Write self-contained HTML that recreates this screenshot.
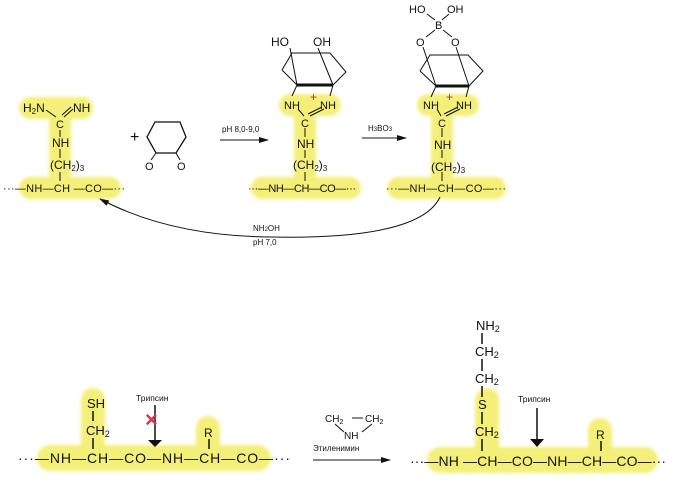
<!DOCTYPE html>
<html><head><meta charset="utf-8"><style>
body{margin:0;background:#fff}
svg{display:block}
text{font-family:"Liberation Sans","DejaVu Sans",sans-serif;fill:#111}
</style></head><body>
<svg width="676" height="483" viewBox="0 0 676 483" xmlns="http://www.w3.org/2000/svg">
<defs>
<marker id="ah" markerWidth="10" markerHeight="6" refX="9" refY="3" orient="auto" markerUnits="userSpaceOnUse"><path d="M0,0 L10,3 L0,6 z" fill="#111"/></marker>
<filter id="bl"><feGaussianBlur stdDeviation="1.5"/></filter>
</defs>
<g stroke="#f3ee6a" fill="none" stroke-linecap="round" stroke-linejoin="round" filter="url(#bl)" opacity="0.9">
<path d="M30,108 L82,108 M60,108 L60,175 M30,188 L110,188" stroke-width="22"/>
<path d="M290,105 L330,105 M305,110 L305,178 M262,188 L350,188" stroke-width="22"/>
<path d="M428,105 L468,105 M442,110 L442,178 M398,188 L495,188" stroke-width="22"/>
<path d="M50,458 L258,458" stroke-width="26"/>
<path d="M93,400 L93,450 M208,428 L208,450" stroke-width="24"/>
<path d="M440,460 L645,460" stroke-width="26"/>
<path d="M487,400 L487,450 M600,430 L600,450" stroke-width="24"/>
</g>
<g font-size="12">
<text x="23" y="112">H<tspan font-size="8" dy="2">2</tspan><tspan dy="-2">N</tspan></text>
<text x="73" y="112">NH</text>
<line x1="46" y1="110" x2="56" y2="117" stroke="#111"/>
<line x1="64" y1="117" x2="73" y2="109" stroke="#111"/><line x1="62" y1="115" x2="71" y2="107" stroke="#111"/>
<text x="56" y="128" font-size="11">C</text>
<line x1="60" y1="130" x2="60" y2="137" stroke="#111"/>
<text x="52" y="147">NH</text>
<line x1="60" y1="149" x2="60" y2="158" stroke="#111"/>
<text x="50" y="169">(CH<tspan font-size="8" dy="2">2</tspan><tspan dy="-2">)</tspan><tspan font-size="8" dy="2">3</tspan></text>
<line x1="60" y1="172" x2="60" y2="181" stroke="#111"/>
<text x="3" y="192" font-size="11" textLength="122" lengthAdjust="spacing">···—NH—CH —CO—···</text>
<text x="130" y="142" font-size="16">+</text>
<path d="M155,122 L180,122 L186,137 L176,153 L156,153 L147,137 Z" fill="none" stroke="#111" stroke-width="1.3"/>
<line x1="156" y1="153" x2="151" y2="160" stroke="#111"/><line x1="176" y1="153" x2="180" y2="160" stroke="#111"/>
<text x="145" y="170" font-size="11">O</text><text x="177" y="170" font-size="11">O</text>
<text x="222" y="132" font-size="8">pH 8,0-9,0</text>
<line x1="220" y1="140" x2="268" y2="140" stroke="#111" marker-end="url(#ah)"/>
<text x="271" y="46">HO</text><text x="313" y="46">OH</text>
<g stroke="#111" fill="none">
<path d="M282,70 L292,53 L330,53 L346,72 L333,85 M282,70 L297,85"/>
<line x1="297" y1="85" x2="333" y2="85" stroke-width="3"/>
<line x1="290" y1="48" x2="297" y2="85"/><line x1="318" y1="48" x2="333" y2="85"/>
<line x1="297" y1="85" x2="292" y2="96"/><line x1="333" y1="85" x2="330" y2="96"/>
<line x1="298" y1="109" x2="304" y2="116"/><line x1="324" y1="109" x2="310" y2="116"/><line x1="322" y1="107" x2="308" y2="114"/>
<line x1="305" y1="128" x2="305" y2="137"/><line x1="305" y1="150" x2="305" y2="158"/><line x1="305" y1="172" x2="305" y2="181"/>
</g>
<text x="284" y="109" font-size="11">NH</text><text x="320" y="109" font-size="11">NH</text>
<text x="310" y="101" style="fill:#e02020" font-size="12">+</text>
<text x="301" y="127" font-size="11">C</text>
<text x="297" y="148">NH</text>
<text x="293" y="169">(CH<tspan font-size="8" dy="2">2</tspan><tspan dy="-2">)</tspan><tspan font-size="8" dy="2">3</tspan></text>
<text x="248" y="192" font-size="11" textLength="108" lengthAdjust="spacing">···—NH—CH—CO—···</text>
<text x="368" y="131" font-size="8">H<tspan font-size="6">3</tspan>BO<tspan font-size="6">3</tspan></text>
<line x1="362" y1="138" x2="406" y2="138" stroke="#111" marker-end="url(#ah)"/>
<text x="409" y="13" font-size="11">HO</text><text x="447" y="13" font-size="11">OH</text>
<text x="435" y="29" font-size="11">B</text>
<text x="416" y="46" font-size="11">O</text><text x="451" y="46" font-size="11">O</text>
<g stroke="#111" fill="none">
<line x1="427" y1="14" x2="435" y2="20"/><line x1="449" y1="14" x2="442" y2="20"/>
<line x1="435" y1="30" x2="426" y2="37"/><line x1="443" y1="30" x2="452" y2="37"/>
<path d="M420,71 L430,55 L468,55 L483,71 L469,86 M420,71 L436,86"/>
<line x1="436" y1="86" x2="469" y2="86" stroke-width="3"/>
<line x1="423" y1="47" x2="436" y2="86"/><line x1="456" y1="47" x2="469" y2="86"/>
<line x1="436" y1="86" x2="431" y2="97"/><line x1="469" y1="86" x2="466" y2="97"/>
<line x1="437" y1="109" x2="441" y2="116"/><line x1="460" y1="109" x2="446" y2="116"/><line x1="458" y1="107" x2="444" y2="114"/>
<line x1="442" y1="128" x2="442" y2="137"/><line x1="442" y1="150" x2="442" y2="158"/><line x1="442" y1="172" x2="442" y2="181"/>
</g>
<text x="423" y="109" font-size="11">NH</text><text x="456" y="109" font-size="11">NH</text>
<text x="446" y="101" style="fill:#e02020" font-size="12">+</text>
<text x="438" y="127" font-size="11">C</text>
<text x="434" y="149">NH</text>
<text x="431" y="171">(CH<tspan font-size="8" dy="2">2</tspan><tspan dy="-2">)</tspan><tspan font-size="8" dy="2">3</tspan></text>
<text x="386" y="192" font-size="11" textLength="120" lengthAdjust="spacing">···—NH—CH—CO—···</text>
<path d="M440,197 Q420,240 270,237 Q170,236 100,199" fill="none" stroke="#111" marker-end="url(#ah)"/>
<text x="253" y="231" font-size="8">NH<tspan font-size="6">2</tspan>OH</text>
<text x="253" y="245" font-size="8">pH 7,0</text>
<!-- bottom left -->
<text x="87" y="408" font-size="13">SH</text>
<line x1="93" y1="411" x2="93" y2="421" stroke="#111" stroke-width="1.5"/>
<text x="86" y="435" font-size="13">CH<tspan font-size="9" dy="2">2</tspan></text>
<line x1="93" y1="438" x2="93" y2="449" stroke="#111" stroke-width="1.5"/>
<text x="18" y="463" font-size="14" textLength="272" lengthAdjust="spacing">···—NH—CH—CO—NH—CH—CO—···</text>
<text x="136" y="401" font-size="8.5">Трипсин</text>
<line x1="155" y1="405" x2="155" y2="440" stroke="#111" stroke-width="1.5"/>
<path d="M148,440 L162,440 L155,447 Z" fill="#111"/>
<text x="145" y="427" style="fill:#e0304a" font-size="22" font-weight="bold">×</text>
<text x="204" y="437" font-size="12">R</text>
<line x1="209" y1="439" x2="209" y2="449" stroke="#111" stroke-width="1.5"/>
<text x="325" y="422" font-size="10">CH<tspan font-size="7" dy="2">2</tspan></text>
<line x1="352" y1="418" x2="363" y2="418" stroke="#111"/>
<text x="365" y="422" font-size="10">CH<tspan font-size="7" dy="2">2</tspan></text>
<line x1="335" y1="424" x2="344" y2="432" stroke="#111"/><line x1="372" y1="424" x2="362" y2="432" stroke="#111"/>
<text x="344" y="439" font-size="10">NH</text>
<text x="313" y="451" font-size="8">Этиленимин</text>
<line x1="313" y1="460" x2="390" y2="460" stroke="#111" marker-end="url(#ah)"/>
<!-- bottom right -->
<text x="476" y="330" font-size="13">NH<tspan font-size="9" dy="2">2</tspan></text>
<line x1="482" y1="333" x2="482" y2="344" stroke="#111" stroke-width="1.5"/>
<text x="475" y="356" font-size="13">CH<tspan font-size="9" dy="2">2</tspan></text>
<line x1="482" y1="359" x2="482" y2="371" stroke="#111" stroke-width="1.5"/>
<text x="475" y="383" font-size="13">CH<tspan font-size="9" dy="2">2</tspan></text>
<line x1="482" y1="386" x2="482" y2="397" stroke="#111" stroke-width="1.5"/>
<text x="478" y="409" font-size="13">S</text>
<line x1="482" y1="412" x2="482" y2="424" stroke="#111" stroke-width="1.5"/>
<text x="475" y="436" font-size="13">CH<tspan font-size="9" dy="2">2</tspan></text>
<line x1="482" y1="439" x2="482" y2="451" stroke="#111" stroke-width="1.5"/>
<text x="410" y="466" font-size="14" textLength="256" lengthAdjust="spacing">···—NH —CH—CO—NH—CH—CO—···</text>
<text x="518" y="402" font-size="8.5">Трипсин</text>
<line x1="537" y1="408" x2="537" y2="439" stroke="#111" stroke-width="1.5"/>
<path d="M530,439 L544,439 L537,447 Z" fill="#111"/>
<text x="596" y="439" font-size="12">R</text>
<line x1="601" y1="441" x2="601" y2="451" stroke="#111" stroke-width="1.5"/>
</g>
</svg>
</body></html>
